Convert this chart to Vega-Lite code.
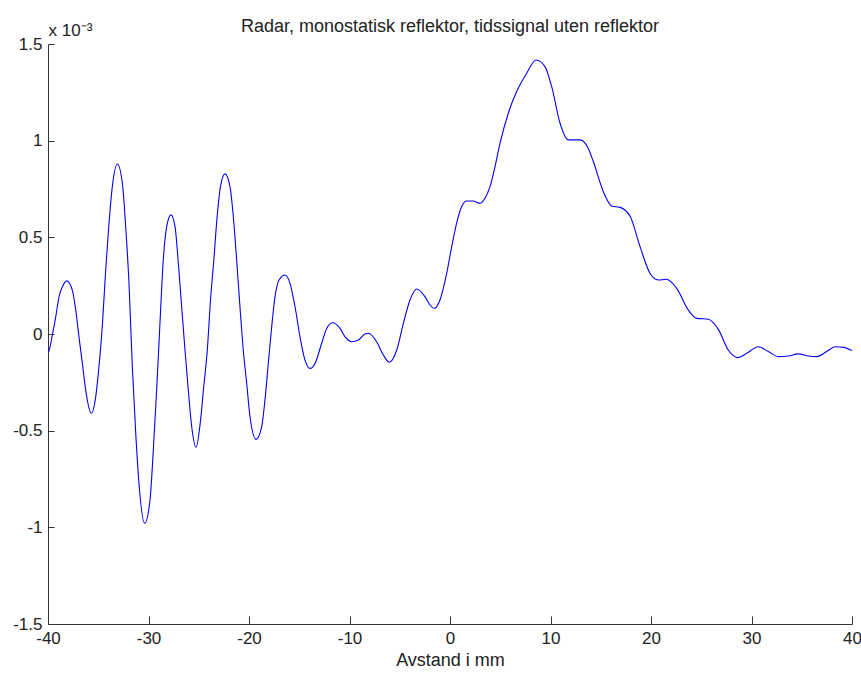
{
  "$schema": "https://vega.github.io/schema/vega-lite/v6.json",
  "width": 804,
  "height": 580,
  "autosize": {"type": "none"},
  "padding": {"left": 48, "top": 44, "right": 9, "bottom": 49},
  "background": "white",
  "config": {
    "view": {"stroke": null},
    "font": "Liberation Sans"
  },
  "title": {
    "text": "Radar, monostatisk reflektor, tidssignal uten reflektor",
    "frame": "group",
    "anchor": "middle",
    "baseline": "bottom",
    "offset": -33,
    "fontSize": 18,
    "fontWeight": "normal",
    "font": "Liberation Sans",
    "color": "#222222"
  },
  "data": {
    "values": [
      {"mm": -40, "amplitude": -0.095},
      {"mm": -39.93, "amplitude": -0.091},
      {"mm": -39.57, "amplitude": -0.005},
      {"mm": -39.23, "amplitude": 0.089},
      {"mm": -38.9, "amplitude": 0.193},
      {"mm": -38.57, "amplitude": 0.244},
      {"mm": -38.14, "amplitude": 0.275},
      {"mm": -37.58, "amplitude": 0.227},
      {"mm": -37.24, "amplitude": 0.124},
      {"mm": -36.92, "amplitude": -0.014},
      {"mm": -36.58, "amplitude": -0.152},
      {"mm": -36.25, "amplitude": -0.29},
      {"mm": -35.69, "amplitude": -0.41},
      {"mm": -35.25, "amplitude": -0.324},
      {"mm": -34.93, "amplitude": -0.169},
      {"mm": -34.6, "amplitude": 0.038},
      {"mm": -34.26, "amplitude": 0.331},
      {"mm": -33.93, "amplitude": 0.573},
      {"mm": -33.6, "amplitude": 0.762},
      {"mm": -33.1, "amplitude": 0.879},
      {"mm": -32.6, "amplitude": 0.78},
      {"mm": -32.27, "amplitude": 0.555},
      {"mm": -31.94, "amplitude": 0.262},
      {"mm": -31.61, "amplitude": -0.169},
      {"mm": -31.27, "amplitude": -0.514},
      {"mm": -30.95, "amplitude": -0.772},
      {"mm": -30.38, "amplitude": -0.979},
      {"mm": -29.85, "amplitude": -0.859},
      {"mm": -29.52, "amplitude": -0.6},
      {"mm": -29.19, "amplitude": -0.29},
      {"mm": -28.86, "amplitude": 0.055},
      {"mm": -28.53, "amplitude": 0.383},
      {"mm": -28.19, "amplitude": 0.555},
      {"mm": -27.76, "amplitude": 0.616},
      {"mm": -27.36, "amplitude": 0.555},
      {"mm": -27.03, "amplitude": 0.366},
      {"mm": -26.7, "amplitude": 0.141},
      {"mm": -26.37, "amplitude": -0.083},
      {"mm": -26.04, "amplitude": -0.29},
      {"mm": -25.7, "amplitude": -0.48},
      {"mm": -25.27, "amplitude": -0.586},
      {"mm": -24.83, "amplitude": -0.45},
      {"mm": -24.5, "amplitude": -0.27},
      {"mm": -24.16, "amplitude": -0.09},
      {"mm": -23.83, "amplitude": 0.176},
      {"mm": -23.5, "amplitude": 0.383},
      {"mm": -23.17, "amplitude": 0.607},
      {"mm": -22.84, "amplitude": 0.762},
      {"mm": -22.39, "amplitude": 0.828},
      {"mm": -21.89, "amplitude": 0.762},
      {"mm": -21.56, "amplitude": 0.607},
      {"mm": -21.23, "amplitude": 0.383},
      {"mm": -20.9, "amplitude": 0.141},
      {"mm": -20.57, "amplitude": -0.083},
      {"mm": -20.23, "amplitude": -0.255},
      {"mm": -19.9, "amplitude": -0.428},
      {"mm": -19.3, "amplitude": -0.545},
      {"mm": -18.74, "amplitude": -0.48},
      {"mm": -18.41, "amplitude": -0.341},
      {"mm": -18.08, "amplitude": -0.152},
      {"mm": -17.74, "amplitude": 0.038},
      {"mm": -17.41, "amplitude": 0.193},
      {"mm": -17.01, "amplitude": 0.279},
      {"mm": -16.42, "amplitude": 0.305},
      {"mm": -15.92, "amplitude": 0.262},
      {"mm": -15.42, "amplitude": 0.141},
      {"mm": -14.93, "amplitude": -0.014},
      {"mm": -14.43, "amplitude": -0.135},
      {"mm": -13.93, "amplitude": -0.178},
      {"mm": -13.43, "amplitude": -0.152},
      {"mm": -12.77, "amplitude": -0.048},
      {"mm": -12.27, "amplitude": 0.029},
      {"mm": -11.67, "amplitude": 0.058},
      {"mm": -10.95, "amplitude": 0.029},
      {"mm": -10.45, "amplitude": -0.014},
      {"mm": -9.78, "amplitude": -0.04},
      {"mm": -9.12, "amplitude": -0.031},
      {"mm": -8.46, "amplitude": 0.0},
      {"mm": -8.13, "amplitude": 0.004},
      {"mm": -7.3, "amplitude": -0.04},
      {"mm": -6.63, "amplitude": -0.109},
      {"mm": -6.04, "amplitude": -0.146},
      {"mm": -5.3, "amplitude": -0.083},
      {"mm": -4.64, "amplitude": 0.055},
      {"mm": -3.98, "amplitude": 0.176},
      {"mm": -3.31, "amplitude": 0.233},
      {"mm": -2.49, "amplitude": 0.193},
      {"mm": -1.99, "amplitude": 0.15},
      {"mm": -1.56, "amplitude": 0.133},
      {"mm": -1.0, "amplitude": 0.176},
      {"mm": -0.33, "amplitude": 0.314},
      {"mm": 0.17, "amplitude": 0.452},
      {"mm": 0.66, "amplitude": 0.573},
      {"mm": 1.16, "amplitude": 0.659},
      {"mm": 1.66, "amplitude": 0.688},
      {"mm": 2.32, "amplitude": 0.688},
      {"mm": 2.99, "amplitude": 0.676},
      {"mm": 3.48, "amplitude": 0.702},
      {"mm": 3.98, "amplitude": 0.762},
      {"mm": 4.48, "amplitude": 0.866},
      {"mm": 4.98, "amplitude": 0.987},
      {"mm": 5.8, "amplitude": 1.142},
      {"mm": 6.63, "amplitude": 1.254},
      {"mm": 7.63, "amplitude": 1.349},
      {"mm": 8.56, "amplitude": 1.417},
      {"mm": 9.45, "amplitude": 1.383},
      {"mm": 10.12, "amplitude": 1.279},
      {"mm": 10.95, "amplitude": 1.09},
      {"mm": 11.77, "amplitude": 1.004},
      {"mm": 12.94, "amplitude": 1.004},
      {"mm": 13.76, "amplitude": 0.96},
      {"mm": 14.26, "amplitude": 0.892},
      {"mm": 15.26, "amplitude": 0.736},
      {"mm": 16.09, "amplitude": 0.662},
      {"mm": 16.92, "amplitude": 0.655},
      {"mm": 17.91, "amplitude": 0.61},
      {"mm": 18.91, "amplitude": 0.452},
      {"mm": 19.9, "amplitude": 0.314},
      {"mm": 20.73, "amplitude": 0.279},
      {"mm": 21.49, "amplitude": 0.283},
      {"mm": 22.56, "amplitude": 0.236},
      {"mm": 23.71, "amplitude": 0.124},
      {"mm": 24.55, "amplitude": 0.081},
      {"mm": 25.7, "amplitude": 0.076},
      {"mm": 26.7, "amplitude": 0.024},
      {"mm": 27.69, "amplitude": -0.083},
      {"mm": 28.63, "amplitude": -0.122},
      {"mm": 29.52, "amplitude": -0.1},
      {"mm": 30.68, "amplitude": -0.066},
      {"mm": 31.67, "amplitude": -0.091},
      {"mm": 32.67, "amplitude": -0.117},
      {"mm": 33.66, "amplitude": -0.114},
      {"mm": 34.66, "amplitude": -0.103},
      {"mm": 35.65, "amplitude": -0.114},
      {"mm": 36.49, "amplitude": -0.117},
      {"mm": 37.48, "amplitude": -0.091},
      {"mm": 38.31, "amplitude": -0.066},
      {"mm": 39.14, "amplitude": -0.069},
      {"mm": 40, "amplitude": -0.086}
    ]
  },
  "mark": {"type": "line", "color": "#0000ff", "strokeWidth": 1.1, "interpolate": "monotone", "clip": true},
  "encoding": {
    "x": {
      "field": "mm",
      "type": "quantitative",
      "scale": {"domain": [-40, 40], "nice": false, "zero": false},
      "axis": {
        "title": "Avstand i mm",
        "values": [-40, -30, -20, -10, 0, 10, 20, 30, 40],
        "labelExpr": "datum.value + ''",
        "grid": false,
        "tickSize": -8,
        "labelPadding": 14,
        "labelFlush": false,
        "labelOverlap": false,
        "labelFontSize": 17,
        "labelColor": "#222222",
        "domainColor": "#333333",
        "tickColor": "#333333",
        "titleFontSize": 18,
        "titleFontWeight": "normal",
        "titleColor": "#222222",
        "titlePadding": 5
      }
    },
    "y": {
      "field": "amplitude",
      "type": "quantitative",
      "scale": {"domain": [-1.5, 1.5], "nice": false, "zero": false},
      "axis": {
        "title": "x 10⁻³",
        "titleAngle": 0,
        "titleAlign": "left",
        "titleBaseline": "alphabetic",
        "titleX": 0,
        "titleY": -9,
        "titleFontSize": 17,
        "titleFontWeight": "normal",
        "titleColor": "#222222",
        "values": [-1.5, -1, -0.5, 0, 0.5, 1, 1.5],
        "labelExpr": "datum.value + ''",
        "grid": false,
        "tickSize": -6,
        "labelPadding": 12,
        "labelFlush": false,
        "labelOverlap": false,
        "labelFontSize": 17,
        "labelColor": "#222222",
        "domainColor": "#333333",
        "tickColor": "#333333"
      }
    }
  }
}
